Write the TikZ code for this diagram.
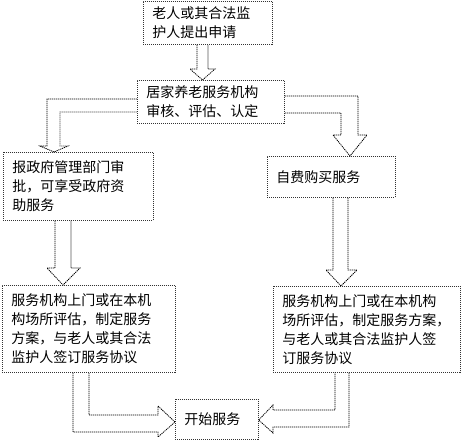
\documentclass[tikz,border=0pt]{standalone}
\usepackage{fontspec}
\setmainfont{Noto Sans CJK SC}
\usetikzlibrary{positioning,calc}

\tikzset{
    box/.style={draw=black!80, dash pattern=on 1pt off 1pt, line width=0.7pt, anchor=north west, align=left,
        inner xsep=9pt, inner ysep=0pt, font=\fontsize{14}{19}\selectfont},
    blockarrow/.style={draw=black, dash pattern=on 1.2pt off 0.8pt, line width=0.8pt, line join=miter}
}

\begin{document}
\begin{tikzpicture}[x=1pt, y=-1pt]
    \useasboundingbox (0,0) rectangle (469,441);

    % Boxes
    \node [box, text width=111pt, minimum height=43pt] (apply) at (143,1) {老人或其合法监\\护人提出申请};
    \node [box, text width=129pt, minimum height=43pt] (assess) at (137,80) {居家养老服务机构\\审核、评估、认定};
    \node [box, text width=132pt, minimum height=68pt] (subsidy) at (3,152) {报政府管理部门审\\批，可享受政府资\\助服务};
    \node [box, text width=110pt, minimum height=41pt] (selfpay) at (267,156) {自费购买服务\\[12pt]};
    \node [box, text width=155pt, minimum height=87pt] (planL) at (2,285) {服务机构上门或在本机\\构场所评估，制定服务\\方案，与老人或其合法\\监护人签订服务协议};
    \node [box, text width=169pt, minimum height=86pt] (planR) at (273,286) {服务机构上门或在本机构\\场所评估，制定服务方案，\\与老人或其合法监护人签\\订服务协议};
    \node [box, text width=65pt, minimum height=40pt] (start) at (175,399) {开始服务};

    % Apply -> assess
    \draw [blockarrow] (197,0 |- apply.south) -- (197,69) -- (190,69) -- (202.5,0 |- assess.north)
        -- (215,69) -- (208,69) -- (208,0 |- apply.south);

    % Assess -> subsidy (left)
    \draw [blockarrow] (assess.west |- 0,99) -- (47,99) -- (47,146) -- (40,146) -- (54,0 |- subsidy.north)
        -- (68,146) -- (60,146) -- (60,112) -- (assess.west |- 0,112);

    % Assess -> self pay (right)
    \draw [blockarrow] (assess.east |- 0,96) -- (358,96) -- (358,135) -- (367,135) -- (350,0 |- selfpay.north)
        -- (333,135) -- (341,135) -- (341,113) -- (assess.east |- 0,113);

    % Down to service plans
    \draw [blockarrow] (55,0 |- subsidy.south) -- (55,268) -- (47,268) -- (63,0 |- planL.north)
        -- (80,268) -- (71,268) -- (71,0 |- subsidy.south);
    \draw [blockarrow] (333,0 |- selfpay.south) -- (333,270) -- (326,270) -- (341,0 |- planR.north)
        -- (357,270) -- (348,270) -- (348,0 |- selfpay.south);

    % Plans -> start
    \draw [blockarrow] (73,0 |- planL.south) -- (73,432) -- (158,432) -- (158,437) -- (start.west |- 0,422)
        -- (158,406) -- (158,415) -- (89,415) -- (89,0 |- planL.south);
    \draw [blockarrow] (349,0 |- planR.south) -- (349,427) -- (273,427) -- (273,433) -- (start.east |- 0,420)
        -- (273,405) -- (273,410) -- (335,410) -- (335,0 |- planR.south);
\end{tikzpicture}
\end{document}
